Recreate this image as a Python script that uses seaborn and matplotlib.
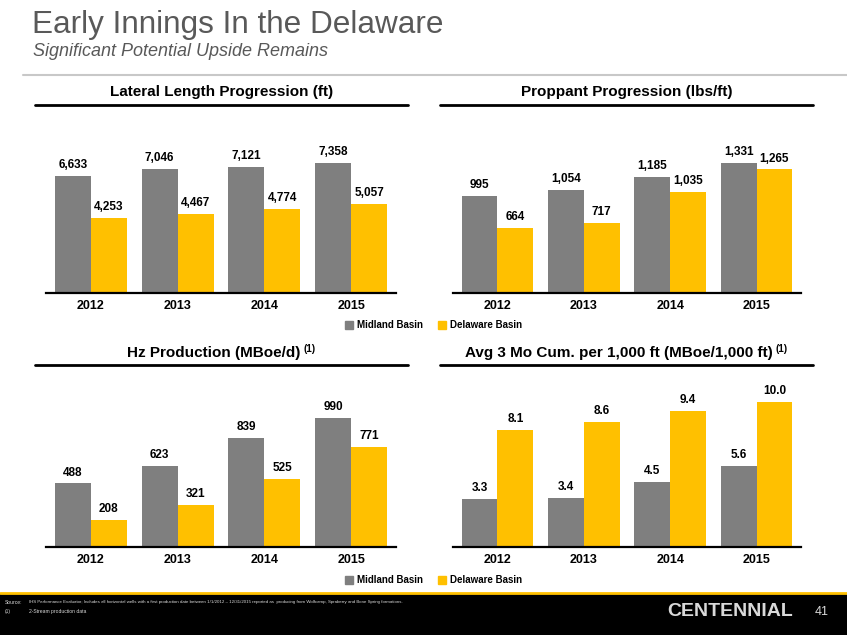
import numpy as np
import pandas as pd
import matplotlib
matplotlib.use("Agg")
import matplotlib.pyplot as plt
import seaborn as sns
from matplotlib.patches import Rectangle
from matplotlib.lines import Line2D

years = ["2012", "2013", "2014", "2015"]
basins = ["Midland Basin", "Delaware Basin"]

lateral_midland = [6633, 7046, 7121, 7358]
lateral_delaware = [4253, 4467, 4774, 5057]
proppant_midland = [995, 1054, 1185, 1331]
proppant_delaware = [664, 717, 1035, 1265]
prod_midland = [488, 623, 839, 990]
prod_delaware = [208, 321, 525, 771]
cum_midland = [3.3, 3.4, 4.5, 5.6]
cum_delaware = [8.1, 8.6, 9.4, 10.0]

gray = "#7F7F7F"
yellow = "#FFC000"
title_color = "#595959"
W, H = 847, 635

sns.set_theme(style="white")
plt.rcParams["font.family"] = ["Liberation Sans", "DejaVu Sans"]

fig = plt.figure(figsize=(W / 100, H / 100), dpi=100)
fig.patch.set_facecolor("white")


def fx(x):
    return x / W


def fy(y):
    return 1 - y / H


def make_df(mid, dela):
    return pd.DataFrame({
        "year": years * 2,
        "basin": [basins[0]] * len(years) + [basins[1]] * len(years),
        "value": list(mid) + list(dela),
    })


# header
fig.text(fx(32), fy(25), "Early Innings In the Delaware", fontsize=22.7,
         color=title_color, ha="left", va="center")
fig.text(fx(33), fy(51), "Significant Potential Upside Remains", fontsize=13,
         style="italic", color=title_color, ha="left", va="center")
fig.add_artist(Line2D([fx(23), fx(847)], [fy(75), fy(75)], color="#C8C8C8", lw=1.5))

panels = [
    dict(title="Lateral Length Progression (ft)", sup="", mid=lateral_midland,
         dela=lateral_delaware, fmt="{:,.0f}", x0=46, x1=396, base=293, tall=130,
         ty=92, ux0=35, ux1=408, uy=105),
    dict(title="Proppant Progression (lbs/ft)", sup="", mid=proppant_midland,
         dela=proppant_delaware, fmt="{:,.0f}", x0=453, x1=801, base=293, tall=130,
         ty=92, ux0=440, ux1=813, uy=105),
    dict(title="Hz Production (MBoe/d)", sup="(1)", mid=prod_midland,
         dela=prod_delaware, fmt="{:,.0f}", x0=46, x1=396, base=547, tall=129,
         ty=353, ux0=35, ux1=408, uy=365),
    dict(title="Avg 3 Mo Cum. per 1,000 ft (MBoe/1,000 ft)", sup="(1)", mid=cum_midland,
         dela=cum_delaware, fmt="{:.1f}", x0=453, x1=801, base=547, tall=145,
         ty=353, ux0=440, ux1=813, uy=365),
]

renderer = fig.canvas.get_renderer()
ax_h = 200

for p in panels:
    ax = fig.add_axes([fx(p["x0"]), fy(p["base"]), (p["x1"] - p["x0"]) / W, ax_h / H])
    df = make_df(p["mid"], p["dela"])
    sns.barplot(data=df, x="year", y="value", hue="basin", palette=[gray, yellow],
                saturation=1, width=0.83, ax=ax, legend=False, linewidth=0, errorbar=None)
    top = max(max(p["mid"]), max(p["dela"]))
    ax.set_ylim(0, top * ax_h / p["tall"])
    ax.set_xlim(-0.515, 3.515)
    for cont, vals in zip(ax.containers, [p["mid"], p["dela"]]):
        ax.bar_label(cont, labels=[p["fmt"].format(v) for v in vals], padding=3.5,
                     fontsize=8.5, fontweight="bold", color="black")
    for s in ["top", "left", "right"]:
        ax.spines[s].set_visible(False)
    ax.spines["bottom"].set_color("black")
    ax.spines["bottom"].set_linewidth(1.6)
    ax.set_yticks([])
    ax.set_xlabel("")
    ax.set_ylabel("")
    ax.tick_params(axis="x", length=0, pad=5)
    for lab in ax.get_xticklabels():
        lab.set_fontweight("bold")
        lab.set_fontsize(9)
        lab.set_color("black")
    ax.patch.set_alpha(0)

    # panel title, centred over its underline
    cx = (p["ux0"] + p["ux1"]) / 2
    t = fig.text(0, fy(p["ty"]), p["title"], fontsize=11, fontweight="bold",
                 ha="left", va="center", color="black")
    w1 = t.get_window_extent(renderer).width
    w2, gap = 0, 0
    if p["sup"]:
        s = fig.text(0, fy(p["ty"] - 4), p["sup"], fontsize=7, fontweight="bold",
                     ha="left", va="center", color="black")
        w2 = s.get_window_extent(renderer).width
        gap = 3
    start = cx - (w1 + gap + w2) / 2
    t.set_x(fx(start))
    if p["sup"]:
        s.set_x(fx(start + w1 + gap))
    fig.add_artist(Line2D([fx(p["ux0"]), fx(p["ux1"])], [fy(p["uy"]), fy(p["uy"])],
                          color="black", lw=2))

# legends
for ly in [325, 580]:
    for x, c, name in [(345, gray, basins[0]), (438, yellow, basins[1])]:
        fig.add_artist(Rectangle((fx(x), fy(ly + 4)), 8 / W, 8 / H, color=c,
                                 transform=fig.transFigure))
        fig.text(fx(x + 12), fy(ly), name, fontsize=7, fontweight="bold",
                 ha="left", va="center", color="black")

# footer
fig.add_artist(Rectangle((0, 0), 1, fy(594), color="black", transform=fig.transFigure))
fig.add_artist(Line2D([0, 1], [fy(593), fy(593)], color=yellow, lw=2))
fig.text(fx(5), fy(602), "Source:", fontsize=3.6, color="#D9D9D9", ha="left", va="center")
fig.text(fx(29), fy(602),
         "IHS Performance Evaluator; Includes all horizontal wells with a first production date "
         "between 1/1/2012 \u2013 12/31/2015 reported as  producing from Wolfcamp, Spraberry "
         "and Bone Spring formations.",
         fontsize=3.2, color="#D9D9D9", ha="left", va="center")
fig.text(fx(5), fy(611), "(1)", fontsize=3.6, color="#D9D9D9", ha="left", va="center")
fig.text(fx(29), fy(611), "2-Stream production data", fontsize=3.6, color="#D9D9D9",
         ha="left", va="center")
fig.text(fx(667), fy(612), "CENTENNIAL", fontsize=14, fontweight="bold",
         color="#D9D9D9", ha="left", va="center")
fig.text(fx(815), fy(612), "41", fontsize=9, color="#D9D9D9", ha="left", va="center")

fig.savefig("out.png", dpi=100)
